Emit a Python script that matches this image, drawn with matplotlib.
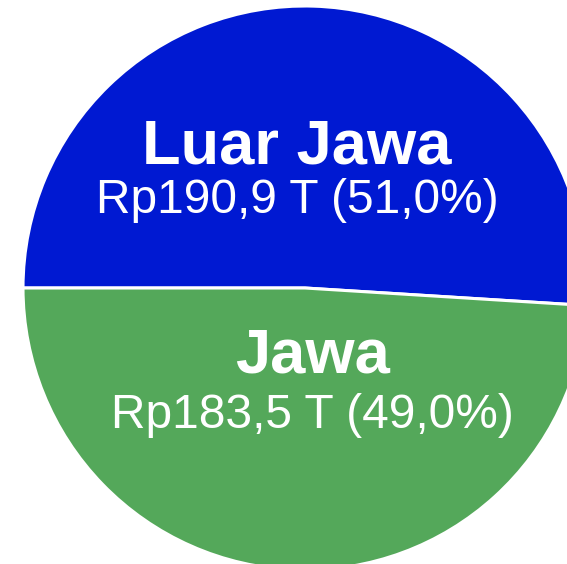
import matplotlib.pyplot as plt

plt.rcParams["font.family"] = ["Liberation Sans", "DejaVu Sans"]

regions = ["Luar Jawa", "Jawa"]
values = [190.9, 183.5]
colors = ["#0019D2", "#54A85A"]

total = sum(values)

fig = plt.figure(figsize=(5.67, 5.64), dpi=100)
ax = fig.add_axes([0, 0, 1, 1])

ax.pie(values, colors=colors, startangle=180, counterclock=False, radius=1,
       wedgeprops=dict(edgecolor="white", linewidth=2.2))

# label positions (data units, pie radius = 1)
label_pos = [(-0.028, 0.443, 0.266), (0.025, -0.301, -0.496)]

for name, val, (x, y_name, y_val) in zip(regions, values, label_pos):
    pct = val / total * 100
    ax.text(x, y_name, name, ha="center", va="baseline", color="white",
            fontsize=45.5, fontweight="bold")
    txt = f"Rp{val:.1f} T ({pct:.1f}%)".replace(".", ",")
    ax.text(x, y_val, txt, ha="center", va="baseline", color="white", fontsize=34.5)

ax.set_xlim(-1.0816, 0.9291)
ax.set_ylim(-0.9787, 1.0213)
ax.set_aspect("auto")
ax.axis("off")

fig.savefig("out.png", dpi=100)
